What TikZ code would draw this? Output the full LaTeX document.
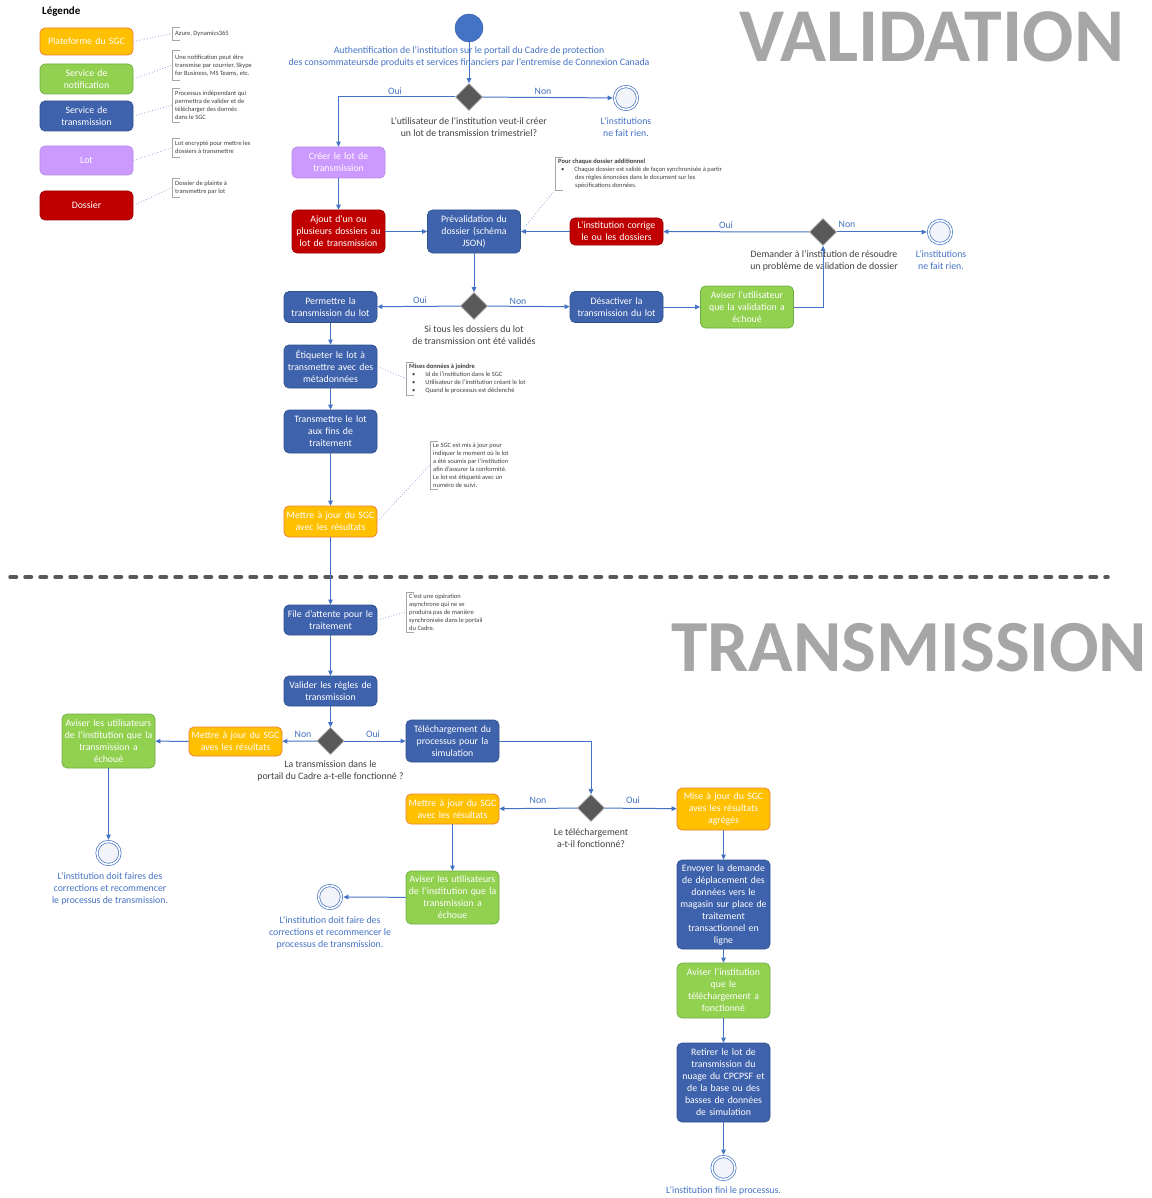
\documentclass[tikz,border=0pt]{standalone}
\usepackage{fontspec}
\setmainfont{Carlito}
\usetikzlibrary{arrows.meta,shapes.geometric,calc}
\definecolor{cblue}{HTML}{3F62AC}
\definecolor{cblueb}{HTML}{2F528F}
\definecolor{corange}{HTML}{FFC000}
\definecolor{corangeb}{HTML}{ED7D31}
\definecolor{cgreen}{HTML}{92D050}
\definecolor{cgreenb}{HTML}{70AD47}
\definecolor{cred}{HTML}{C00000}
\definecolor{credb}{HTML}{9E0000}
\definecolor{cpurple}{HTML}{CC99FF}
\definecolor{cpurpleb}{HTML}{B98AE8}
\definecolor{cline}{HTML}{4472C4}
\definecolor{ctext}{HTML}{404040}
\definecolor{cdia}{HTML}{595959}
\definecolor{cdiab}{HTML}{A6A6A6}
\definecolor{cstart}{HTML}{4472C4}
\definecolor{cstartb}{HTML}{3A62AA}
\definecolor{cendfill}{HTML}{F2F4FA}
\definecolor{ctitle}{HTML}{A6A6A6}
\definecolor{cdash}{HTML}{595959}
\definecolor{cbr}{HTML}{A6A6A6}
\definecolor{cdot}{HTML}{8FAADC}
\begin{document}
\begin{tikzpicture}[x=1pt,y=-1pt,
  box/.style={rounded corners=5pt, minimum width=93pt, text width=91pt, align=center, text=white, font=\fontsize{9.8}{12}\selectfont, inner sep=1pt, line width=0.7pt},
  bb/.style={box, fill=cblue, draw=cblueb},
  ob/.style={box, fill=corange, draw=corangeb},
  gb/.style={box, fill=cgreen, draw=cgreenb},
  rb/.style={box, fill=cred, draw=credb},
  pb/.style={box, fill=cpurple, draw=cpurpleb},
  dec/.style={diamond, fill=cdia, draw=cdiab, line width=0.6pt, minimum width=27pt, minimum height=27pt, inner sep=0pt},
  endc/.style={circle, draw=cline, line width=0.7pt, double=white, double distance=1.6pt, fill=cendfill, minimum size=23pt, inner sep=0pt},
  startc/.style={circle, fill=cstart, draw=cstartb, minimum size=28pt, inner sep=0pt},
  conn/.style={draw=cline, line width=1pt, -{Triangle[length=5pt,width=4.5pt]}},
  lbl/.style={text=cline, font=\fontsize{9.8}{12}\selectfont, align=center, inner sep=0pt},
  qlbl/.style={text=ctext, font=\fontsize{9.8}{12}\selectfont, align=center, inner sep=0pt},
  yn/.style={text=cline, font=\fontsize{9.8}{11}\selectfont, inner sep=0pt},
  note/.style={anchor=north west, align=left, text=ctext, font=\fontsize{6.5}{8}\selectfont, inner sep=1.5pt, inner xsep=3pt},
  bracket/.style={draw=cbr, line width=0.6pt},
  dotl/.style={draw=cdot, line width=0.8pt, dotted},
  title/.style={font=\bfseries\fontsize{73}{80}\selectfont, text=ctitle, inner sep=0pt},
  sep/.style={draw=cdash, line width=3.5pt, dash pattern=on 6.5pt off 8.5pt, line cap=round}
]
\useasboundingbox[fill=white] (0,0) rectangle (1151,1198);

% Titles and separator
\node[title, anchor=base west] (tv) at (739,62) {\resizebox{385pt}{!}{VALIDATION}};
\node[title, anchor=base west] (tt) at (671,671) {\resizebox{476pt}{!}{TRANSMISSION}};
\draw[sep] (10,577) -- (1108,577);

% Legend
\node[font=\bfseries\fontsize{11}{13}\selectfont, anchor=west, inner sep=0pt] (leg) at (42,12) {Légende};
\node[ob, minimum height=27] (L1) at (86.5,41.5) {Plateforme du SGC};
\node[gb, minimum height=30] (L2) at (86.5,79) {Service de\\notification};
\node[bb, minimum height=30] (L3) at (86.5,116) {Service de\\transmission};
\node[pb, minimum height=29] (L4) at (86.5,160.5) {Lot};
\node[rb, minimum height=29] (L5) at (86.5,205.5) {Dossier};

\node[note, minimum height=13] (n1) at (172,27) {Azure, Dynamics365};
\node[note, minimum height=30] (n2) at (172,50) {Une notification peut être\\transmise par courrier, Skype\\for Business, MS Teams, etc.};
\node[note, minimum height=34] (n3) at (172,88) {Processus indépendant qui\\permettra de valider et de\\télécharger des donnés\\dans le SGC};
\node[note, minimum height=19] (n4) at (172,138) {Lot encrypté pour mettre les\\dossiers à transmettre};
\node[note, minimum height=19] (n5) at (172,178) {Dossier de plainte à\\transmettre par lot};

\draw[dotl] (L1.east) -- (n1.west);
\draw[dotl] (L2.east) -- (n2.west);
\draw[dotl] (L3.east) -- (n3.west);
\draw[dotl] (L4.east) -- (n4.west);
\draw[dotl] (L5.east) -- (n5.west);

% Validation flow
\node[startc] (start) at (469,28) {};
\node[lbl] (auth) at (469,57) {Authentification de l’institution sur le portail du Cadre de protection\\des consommateursde produits et services financiers par l’entremise de Connexion Canada};
\node[dec] (d1) at (469,97) {};
\draw[conn] (start) -- (d1);
\node[qlbl] (q1) at (469,127) {L’utilisateur de l’institution veut-il créer\\un lot de transmission trimestriel?};
\node[endc] (e1) at (626,98) {};
\node[lbl] (e1l) at (626,127) {L’institutions\\ne fait rien.};
\draw[conn, shorten >=1.5pt] (d1) -- (e1);
\node[yn] (nn1) at (543,91) {Non};

\node[pb, minimum height=31] (creer) at (338.5,162.5) {Créer le lot de\\transmission};
\draw[conn] (d1.west) -| (creer.north);
\node[yn] (oo1) at (395,91) {Oui};

\node[rb, minimum height=43] (ajout) at (338.5,231.5) {Ajout d’un ou\\plusieurs dossiers au\\lot de transmission};
\draw[conn] (creer) -- (ajout);
\node[bb, minimum height=43] (preval) at (474,231.5) {Prévalidation du\\dossier (schéma\\JSON)};
\draw[conn] (ajout) -- (preval);
\node[rb, minimum height=27] (corr) at (616.5,231.5) {L’institution corrige\\le ou les dossiers};
\draw[conn] (corr) -- (preval);
\node[dec] (d2) at (823,232) {};
\draw[conn] (d2) -- (corr);
\node[yn] (oo2) at (726,225) {Oui};
\node[endc] (e2) at (940,232) {};
\draw[conn, shorten >=1.5pt] (d2) -- (e2);
\node[yn] (nn2) at (847,224) {Non};
\node[qlbl] (q2) at (824,260.5) {Demander à l’institution de résoudre\\un problème de validation de dossier};
\node[lbl] (e2l) at (941,260.5) {L’institutions\\ne fait rien.};

\node[note] (n6) at (555,157) {\textbf{Pour chaque dossier additionnel}\\\hspace*{3pt}\textbullet\hspace*{10pt}Chaque dossier est validé de façon synchronisée à partir\\\hspace*{17pt}des règles énoncées dans le document sur les\\\hspace*{17pt}spécifications données.};
\draw[dotl] (preval.east) -- (n6.south west);

\node[dec] (d3) at (474,306) {};
\draw[conn] (preval) -- (d3);
\node[qlbl] (q3) at (474,335.5) {Si tous les dossiers du lot\\de transmission ont été validés};
\node[bb, minimum height=31] (perm) at (330.5,307) {Permettre la\\transmission du lot};
\draw[conn] (d3) -- (perm);
\node[yn] (oo3) at (420,300) {Oui};
\node[bb, minimum height=31] (desac) at (616.5,307) {Désactiver la\\transmission du lot};
\draw[conn] (d3) -- (desac);
\node[yn] (nn3) at (518,301) {Non};
\node[gb, minimum height=42] (avis1) at (747,307) {Aviser l’utilisateur\\que la validation a\\échoué};
\draw[conn] (desac) -- (avis1);
\draw[conn] (avis1.east) -| (d2.south);

\node[bb, minimum height=43] (etiq) at (330.5,366.5) {Étiqueter le lot à\\transmettre avec des\\métadonnées};
\draw[conn] (perm) -- (etiq);
\node[bb, minimum height=43] (trans) at (330.5,431.5) {Transmettre le lot\\aux fins de\\traitement};
\draw[conn] (etiq) -- (trans);
\node[ob, minimum height=31] (maj1) at (330.5,521.5) {Mettre à jour du SGC\\avec les résultats};
\draw[conn] (trans) -- (maj1);
\node[bb, minimum height=30] (file) at (330.5,620) {File d’attente pour le\\traitement};
\draw[conn] (maj1) -- (file);
\node[bb, minimum height=30] (valid) at (330.5,691) {Valider les règles de\\transmission};
\draw[conn] (file) -- (valid);

\node[note] (n7) at (406,362) {\textbf{Mises données à joindre}\\\hspace*{3pt}\textbullet\hspace*{10pt}Id de l’institution dans le SGC\\\hspace*{3pt}\textbullet\hspace*{10pt}Utilisateur de l’institution créant le lot\\\hspace*{3pt}\textbullet\hspace*{10pt}Quand le processus est déclenché};
\draw[dotl] (etiq.east) -- (n7.west);
\node[note] (n8) at (430,441) {Le SGC est mis à jour pour\\indiquer le moment où le lot\\a été soumis par l’institution\\afin d’assurer la conformité.\\Le lot est étiqueté avec un\\numéro de suivi.};
\draw[dotl] (maj1.east) -- (n8.west);
\node[note] (n9) at (406,592) {C’est une opération\\asynchrone qui ne se\\produira pas de manière\\synchronisée dans le portail\\du Cadre.};
\draw[dotl] (file.east) -- (n9.west);

\foreach \n in {n1,n2,n3,n4,n5,n6,n7,n8,n9}
  \draw[bracket] ([xshift=8pt]\n.north west) -- (\n.north west) -- (\n.south west) -- ([xshift=8pt]\n.south west);

% Transmission flow
\node[dec] (d4) at (330.5,741) {};
\draw[conn] (valid) -- (d4);
\node[qlbl] (q4) at (330.5,771) {La transmission dans le\\portail du Cadre a-t-elle fonctionné ?};
\node[ob, minimum height=29] (maj2) at (235.5,741.5) {Mettre à jour du SGC\\aves les résultats};
\draw[conn] (d4) -- (maj2);
\node[yn] (nn4) at (303,734) {Non};
\node[gb, minimum height=54] (avis2) at (108.5,741) {Aviser les utilisateurs\\de l’institution que la\\transmission a\\échoué};
\draw[conn] (maj2) -- (avis2);
\node[endc] (e3) at (108.5,853) {};
\draw[conn, shorten >=1.5pt] (avis2) -- (e3);
\node[lbl] (e3l) at (110,889) {L’institution doit faires des\\corrections et recommencer\\le processus de transmission.};

\node[bb, minimum height=42] (telech) at (452.5,741) {Téléchargement du\\processus pour la\\simulation};
\draw[conn] (d4) -- (telech);
\node[yn] (oo4) at (373,734) {Oui};
\node[dec] (d5) at (591,808) {};
\draw[conn] (telech.east) -| (d5.north);
\node[qlbl] (q5) at (591,838) {Le téléchargement\\a-t-il fonctionné?};
\node[ob, minimum height=30] (maj3) at (452.5,809) {Mettre à jour du SGC\\avec les résultats};
\draw[conn] (d5) -- (maj3);
\node[yn] (nn5) at (538,800) {Non};
\node[gb, minimum height=53] (avis3) at (452.5,897.5) {Aviser les utilisateurs\\de l’institution que la\\transmission a\\échoue};
\draw[conn] (maj3) -- (avis3);
\node[endc] (e4) at (330,897) {};
\draw[conn, shorten >=1.5pt] (avis3) -- (e4);
\node[lbl] (e4l) at (330,933) {L’institution doit faire des\\corrections et recommencer le\\processus de transmission.};

\node[ob, minimum height=42] (maj4) at (723.5,809) {Mise à jour du SGC\\aves les résultats\\agrégés};
\draw[conn] (d5) -- (maj4);
\node[yn] (oo5) at (633,800) {Oui};
\node[bb, minimum height=89] (envoy) at (723.5,904.5) {Envoyer la demande\\de déplacement des\\données vers le\\magasin sur place de\\traitement\\transactionnel en\\ligne};
\draw[conn] (maj4) -- (envoy);
\node[gb, minimum height=55] (avis4) at (723.5,990.5) {Aviser l’institution\\que le\\téléchargement a\\fonctionné};
\draw[conn] (envoy) -- (avis4);
\node[bb, minimum height=79] (retir) at (723.5,1082.5) {Retirer le lot de\\transmission du\\nuage du CPCPSF et\\de la base ou des\\basses de données\\de simulation};
\draw[conn] (avis4) -- (retir);
\node[endc] (e5) at (723.5,1168) {};
\draw[conn, shorten >=1.5pt] (retir) -- (e5);
\node[lbl] (e5l) at (723.5,1191) {L’institution fini le processus.};
\end{tikzpicture}
\end{document}
